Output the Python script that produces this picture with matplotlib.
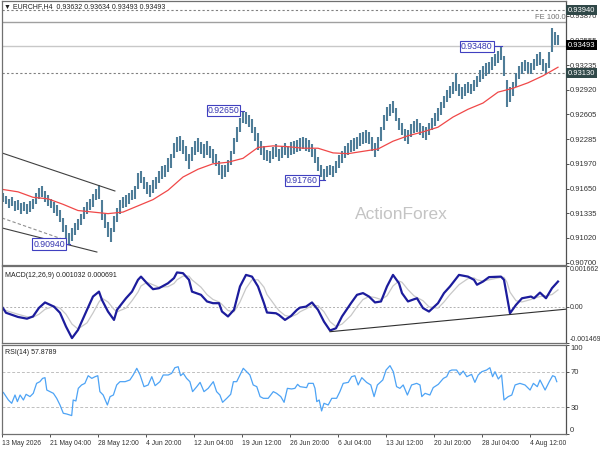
import numpy as np
import matplotlib
matplotlib.use("Agg")
import matplotlib.pyplot as plt

plt.rcParams['font.family'] = ['Liberation Sans', 'DejaVu Sans']

# price bars (each bar = 8h block)
lows = [0.9148, 0.9145, 0.9140, 0.9143, 0.9136, 0.9138, 0.9133, 0.9136, 0.9132, 0.9135, 0.9139,
        0.9145, 0.9152, 0.9155, 0.9148, 0.9143, 0.9140, 0.9134, 0.9130, 0.9122, 0.9110,
        0.9100, 0.9094, 0.9098, 0.9105, 0.9112, 0.9118, 0.9126, 0.9132, 0.9138, 0.9142,
        0.9150, 0.9152, 0.9125, 0.9115, 0.9103, 0.9097, 0.9110, 0.9122, 0.9132, 0.9140,
        0.9142, 0.9146, 0.9150, 0.9152, 0.9165, 0.9172, 0.9164, 0.9158, 0.9155, 0.9160,
        0.9164, 0.9172, 0.9178, 0.9180, 0.9186, 0.9192, 0.9205, 0.9212, 0.9214, 0.9210,
        0.9200, 0.9190, 0.9200, 0.9208, 0.9212, 0.9210, 0.9205, 0.9208, 0.9204, 0.9198,
        0.9194, 0.9182, 0.9178, 0.9180, 0.9186, 0.9196, 0.9210, 0.9225, 0.9238, 0.9250,
        0.9248, 0.9244, 0.9236, 0.9226, 0.9215, 0.9208, 0.9202, 0.9200, 0.9198, 0.9203,
        0.9206, 0.9200, 0.9205, 0.9208, 0.9204, 0.9208, 0.9210, 0.9212, 0.9214, 0.9216,
        0.9214, 0.9212, 0.9206, 0.9198, 0.9188, 0.9180, 0.9176, 0.9180, 0.9182, 0.9180,
        0.9185, 0.9192, 0.9198, 0.9205, 0.9208, 0.9212, 0.9214, 0.9216, 0.9220, 0.9222,
        0.9224, 0.9222, 0.9214, 0.9206, 0.9214, 0.9226, 0.9240, 0.9252, 0.9258, 0.9262,
        0.9252, 0.9240, 0.9234, 0.9226, 0.9222, 0.9232, 0.9236, 0.9238, 0.9234, 0.9230,
        0.9228, 0.9234, 0.9240, 0.9246, 0.9252, 0.9260, 0.9268, 0.9276, 0.9282, 0.9286,
        0.9290, 0.9284, 0.9280, 0.9284, 0.9288, 0.9286, 0.9290, 0.9295, 0.9302, 0.9306,
        0.9310, 0.9312, 0.9318, 0.9322, 0.9326, 0.9330, 0.9310, 0.9270, 0.9276, 0.9284,
        0.9296, 0.9306, 0.9312, 0.9316, 0.9314, 0.9312, 0.9318, 0.9322, 0.9324, 0.9316,
        0.9312, 0.9320, 0.9340, 0.9350, 0.9349]
highs = [0.9160, 0.9156, 0.9152, 0.9155, 0.9149, 0.9150, 0.9147, 0.9148, 0.9145, 0.9149, 0.9152,
         0.9160, 0.9166, 0.9168, 0.9162, 0.9157, 0.9152, 0.9148, 0.9144, 0.9138, 0.9128,
         0.9118, 0.9108, 0.9114, 0.9121, 0.9126, 0.9133, 0.9142, 0.9148, 0.9152, 0.9158,
         0.9164, 0.9170, 0.9150, 0.9132, 0.9122, 0.9115, 0.9130, 0.9140, 0.9150, 0.9155,
         0.9157, 0.9160, 0.9163, 0.9168, 0.9185, 0.9188, 0.9180, 0.9174, 0.9170, 0.9176,
         0.9180, 0.9188, 0.9194, 0.9196, 0.9204, 0.9210, 0.9224, 0.9232, 0.9233, 0.9228,
         0.9220, 0.9210, 0.9218, 0.9226, 0.9230, 0.9225, 0.9222, 0.9226, 0.9220, 0.9216,
         0.9210, 0.9200, 0.9195, 0.9196, 0.9202, 0.9214, 0.9230, 0.9244, 0.9256, 0.9265,
         0.9264, 0.9260, 0.9254, 0.9244, 0.9236, 0.9226, 0.9220, 0.9215, 0.9214, 0.9218,
         0.9222, 0.9216, 0.9220, 0.9224, 0.9220, 0.9225, 0.9226, 0.9228, 0.9230, 0.9232,
         0.9230, 0.9228, 0.9222, 0.9216, 0.9206, 0.9196, 0.9190, 0.9194, 0.9196, 0.9194,
         0.9200, 0.9208, 0.9214, 0.9220, 0.9224, 0.9228, 0.9230, 0.9232, 0.9236, 0.9238,
         0.9240, 0.9238, 0.9232, 0.9224, 0.9232, 0.9244, 0.9260, 0.9270, 0.9274, 0.9277,
         0.9268, 0.9256, 0.9250, 0.9242, 0.9240, 0.9248, 0.9252, 0.9254, 0.9250, 0.9246,
         0.9244, 0.9250, 0.9256, 0.9262, 0.9268, 0.9276, 0.9284, 0.9292, 0.9297, 0.9302,
         0.9314, 0.9300, 0.9296, 0.9300, 0.9302, 0.9300, 0.9305, 0.9310, 0.9318, 0.9322,
         0.9326, 0.9328, 0.9334, 0.9338, 0.9342, 0.9348, 0.9335, 0.9305, 0.9296, 0.9302,
         0.9314, 0.9322, 0.9328, 0.9330, 0.9328, 0.9326, 0.9332, 0.9338, 0.9340, 0.9332,
         0.9326, 0.9340, 0.9371, 0.9366, 0.9363]

# moving average, every 5th bar
ma_pos = list(range(0, 186, 5))
ma_val = [0.9164, 0.9161, 0.9154, 0.9152, 0.9145, 0.9137, 0.9135, 0.9133, 0.9135, 0.9143,
          0.9151, 0.9163, 0.9180, 0.9190, 0.9197, 0.9199, 0.9204, 0.9218, 0.9220, 0.9219,
          0.9217, 0.9217, 0.9211, 0.9210, 0.9213, 0.9216, 0.9226, 0.9233, 0.9238, 0.9244,
          0.9257, 0.9267, 0.9275, 0.9289, 0.9294, 0.9301, 0.9310, 0.9321]

# MACD (12,26,9)
macd_pos = [0, 1, 5, 8, 10, 12, 14, 17, 19, 21, 23, 25, 28, 30, 32, 33, 35, 37, 38, 41,
            43, 45, 46, 48, 50, 52, 55, 57, 58, 60, 62, 63, 66, 68, 70, 72, 73, 75, 77, 79,
            81, 83, 85, 87, 88, 91, 92, 94, 96, 98, 99, 101, 103, 105, 107, 109, 111, 113, 116, 118,
            120, 122, 124, 126, 128, 130, 132, 133, 135, 137, 138, 140, 142, 145, 147, 149, 152, 155, 157, 158,
            160, 162, 166, 167, 168, 169, 171, 173, 176, 177, 179, 181, 183, 185]
macd_val = [-0.00005, -0.00024, -0.00041, -0.00048, -0.00039, -0.00004, 0.00018, 0.00001, -0.00024, -0.00080,
            -0.00127, -0.00094, -0.00012, 0.00042, 0.00062, 0.00028, -0.00019, -0.00053, -0.00012, 0.00035,
            0.00062, 0.00110, 0.00123, 0.00096, 0.00072, 0.00076, 0.00096, 0.00117, 0.00140, 0.00137,
            0.00110, 0.00062, 0.00049, 0.00022, 0.00015, 0.00015, -0.00019, -0.00039, -0.00012, 0.00083,
            0.00130, 0.00123, 0.00083, 0.00015, -0.00023, -0.00026, -0.00033, -0.00053, -0.00037, -0.00012,
            -0.00003, 0.00001, 0.00018, -0.00012, -0.00060, -0.00096, -0.00087, -0.00039, 0.00015, 0.00049,
            0.00056, 0.00042, 0.00018, 0.00022, 0.00083, 0.00130, 0.00096, 0.00056, 0.00022, 0.00031,
            0.00035, -0.00005, -0.00019, 0.00015, 0.00056, 0.00083, 0.00130, 0.00123, 0.00110, 0.00090,
            0.00103, 0.00121, 0.00123, 0.00110, 0.00042, -0.00026, 0.00008, 0.00035, 0.00042, 0.00035,
            0.00058, 0.00035, 0.00076, 0.00103]
signal_val = [-0.00010, -0.00015, -0.00030, -0.00040, -0.00042, -0.00030, -0.00010, 0.00003, -0.00005, -0.00030,
              -0.00070, -0.00090, -0.00065, -0.00025, 0.00020, 0.00035, 0.00020, -0.00010, -0.00020, -0.00005,
              0.00025, 0.00060, 0.00085, 0.00100, 0.00090, 0.00080, 0.00082, 0.00095, 0.00110, 0.00125,
              0.00125, 0.00110, 0.00080, 0.00050, 0.00030, 0.00020, 0.00010, -0.00015, -0.00020, 0.00020,
              0.00075, 0.00110, 0.00110, 0.00080, 0.00050, 0.00000, -0.00015, -0.00035, -0.00040, -0.00030,
              -0.00020, -0.00008, 0.00005, 0.00005, -0.00020, -0.00060, -0.00080, -0.00070, -0.00035, 0.00000,
              0.00030, 0.00042, 0.00038, 0.00030, 0.00045, 0.00085, 0.00105, 0.00100, 0.00070, 0.00045,
              0.00038, 0.00025, 0.00000, -0.00005, 0.00020, 0.00050, 0.00090, 0.00115, 0.00118, 0.00110,
              0.00105, 0.00110, 0.00120, 0.00120, 0.00100, 0.00060, 0.00025, 0.00020, 0.00030, 0.00035,
              0.00042, 0.00045, 0.00050, 0.00069]

# RSI(14)
rsi_pos = [-0.3, 0.1, 1.8, 2.9, 4.0, 4.8, 5.7, 6.8, 7.7, 9.0, 10.1, 11.2, 12.3, 13.2, 14.0, 14.6, 15.7, 16.8,
           17.9, 19.0, 20.1, 21.2, 22.9, 23.4, 24.3, 25.1, 26.2, 27.3, 28.4, 29.6, 30.7, 31.6, 32.3, 33.4,
           34.8, 35.7, 36.8, 37.9, 39.0, 40.7, 42.3, 43.4, 44.6, 45.7, 47.0, 48.4, 49.6, 50.7, 52.3, 53.4,
           55.1, 56.2, 57.3, 58.4, 59.2, 60.1, 61.2, 62.3, 63.2, 64.6, 65.7, 67.0, 68.4, 70.1, 71.2, 72.3,
           73.2, 74.6, 75.9, 76.8, 77.9, 79.0, 80.1, 81.2, 82.3, 83.4, 84.6, 85.7, 86.8, 88.4, 90.1, 91.2,
           92.6, 93.7, 94.8, 96.2, 97.3, 98.2, 99.0, 101.2, 101.8, 103.4, 104.0, 104.6, 105.4, 106.2, 107.0,
           108.4, 109.6, 111.2, 112.3, 113.4, 115.1, 116.2, 117.3, 118.4, 119.6, 121.2, 122.6, 123.7, 124.8,
           126.6, 127.7, 129.0, 130.1, 131.2, 132.3, 133.4, 134.8, 136.2, 137.9, 139.0, 139.6, 140.7, 142.3,
           143.4, 145.1, 146.8, 147.9, 148.8, 149.6, 151.2, 152.3, 153.4, 154.6, 156.2, 157.3, 158.4, 159.6,
           161.2, 162.3, 163.2, 164.0, 165.1, 166.2, 167.0, 168.4, 169.6, 170.7, 172.3, 174.0, 175.7, 176.8,
           178.1, 179.0, 180.7, 182.1, 183.2, 184.0, 184.6]
rsi_val = [45.7, 46.8, 38.2, 34.5, 43.8, 36.4, 43.8, 38.2, 44.6, 42.0, 45.7, 56.9, 58.8, 62.5, 63.3, 49.4, 47.6, 45.7,
           40.1, 32.6, 23.3, 22.5, 20.7, 38.2, 37.1, 51.3, 55.1, 56.9, 65.5, 62.5, 64.4, 65.5, 47.6, 43.8,
           32.6, 42.0, 43.8, 55.1, 58.8, 58.8, 60.7, 66.3, 73.8, 66.3, 53.2, 55.1, 64.4, 54.3, 58.8, 66.3,
           66.3, 68.1, 74.5, 75.6, 65.5, 68.1, 62.5, 58.8, 47.6, 53.2, 58.0, 47.6, 51.3, 58.8, 47.6, 43.8,
           35.6, 40.1, 44.6, 58.8, 58.8, 66.3, 73.8, 70.0, 66.3, 55.1, 53.2, 42.0, 40.1, 40.1, 47.6, 45.7,
           42.0, 35.6, 51.3, 50.6, 51.3, 55.8, 53.2, 52.1, 56.9, 56.9, 51.3, 36.4, 38.2, 25.9, 34.5,
           32.6, 40.1, 40.1, 47.6, 56.9, 58.0, 64.4, 65.5, 55.1, 63.3, 58.0, 55.1, 42.0, 55.1,
           60.7, 71.9, 76.8, 70.0, 53.2, 51.3, 55.1, 43.8, 55.1, 56.9, 55.1, 42.0, 45.7, 43.8,
           52.1, 55.8, 62.5, 64.4, 70.7, 71.9, 71.9, 66.3, 70.7, 64.4, 67.0, 58.0, 66.3, 70.0,
           71.9, 74.5, 64.4, 70.0, 61.8, 66.3, 38.2, 42.0, 43.8, 55.1, 56.9, 55.1, 49.4, 56.9,
           53.2, 60.7, 49.4, 58.8, 65.5, 64.4, 58.8]

tick_pos = [-0.33 + 16 * k for k in range(12)]
tick_lab = ['13 May 2026', '21 May 04:00', '28 May 12:00', '4 Jun 20:00', '12 Jun 04:00',
            '19 Jun 12:00', '26 Jun 20:00', '6 Jul 04:00', '13 Jul 12:00', '20 Jul 20:00',
            '28 Jul 04:00', '4 Aug 12:00']
price_ticks = [0.90700, 0.91020, 0.91335, 0.91650, 0.91970, 0.92285, 0.92605,
               0.92920, 0.93235, 0.93555, 0.93870]

BAR = '#4f7d98'
SP = '#707070'
fs = 5.5

fig = plt.figure(figsize=(6, 4.5), dpi=100, facecolor='white')
ax1 = fig.add_axes([2/600, 185/450, 564/600, 264/450])
ax2 = fig.add_axes([2/600, 107/450, 564/600, 77/450])
ax3 = fig.add_axes([2/600, 16/450, 564/600, 89/450])

for ax in (ax1, ax2, ax3):
    ax.set_xlim(-0.33, 187.67)
    ax.yaxis.tick_right()
    ax.tick_params(axis='y', direction='out', length=2, labelsize=fs, pad=1,
                   colors='#333333', width=0.6)
    for s in ax.spines.values():
        s.set_color(SP)
        s.set_linewidth(0.9)
    ax.spines['right'].set_color('#505050')

# ---- main panel
x = np.arange(len(lows))
ax1.set_ylim(0.906705, 0.940603)
ax1.set_xticks([])
ax1.set_yticks(price_ticks)
ax1.set_yticklabels(['%.5f' % p for p in price_ticks])

ax1.axhline(0.93940, color='#808080', lw=0.8, ls=(0, (2, 2)))
ax1.axhline(0.93790, color='#a0a0a0', lw=1.0)
ax1.axhline(0.93480, color='#c8c8c8', lw=1.0)
ax1.axhline(0.93130, color='#808080', lw=0.8, ls=(0, (2, 2)))

ax1.vlines(x, lows, highs, color=BAR, lw=1.5)
ax1.plot(ma_pos, ma_val, color='#f04848', lw=0.9)

# channel lines
ax1.plot([-0.33, 37.3], [0.92109, 0.91621], color='#404040', lw=0.8)
ax1.plot([-0.33, 31.3], [0.91146, 0.90837], color='#404040', lw=0.8)
ax1.plot([-0.33, 20.7], [0.91274, 0.90991], color='#909090', lw=0.8, ls=(0, (3, 2)))

# swing labels
for tx, lx, lv, txt in [(78.8, 80.5, 0.92650, '0.92650'), (104.9, 107.5, 0.91760, '0.91760'),
                        (163.2, 166.5, 0.93480, '0.93480'), (20.6, 22.5, 0.90940, '0.90940')]:
    ax1.plot([tx, lx], [lv, lv], color='#4040c0', lw=0.8)
    ax1.text(tx, lv, txt, fontsize=6.3, color='#3535b0', ha='right', va='center',
             bbox=dict(boxstyle='square,pad=0.12', fc='white', ec='#4040c0', lw=0.8))

ax1.text(117.3, 0.91325, 'ActionForex', fontsize=12.5, color='#c4c4c4', ha='left', va='center')
ax1.text(187.4, 0.93800, 'FE 100.0', fontsize=fs, color='#707070', ha='right', va='bottom')

yt = ax1.get_yaxis_transform()
for val, bg in [(0.93940, '#304848'), (0.93493, '#000000'), (0.93130, '#304848')]:
    ax1.text(1.003, val, '%.5f' % val, transform=yt, fontsize=fs, color='white',
             ha='left', va='center', clip_on=False,
             bbox=dict(boxstyle='square,pad=0.2', fc=bg, ec='none'))

fig.text(4/600, 1 - 7/450, '\u25bc EURCHF,H4  0.93632 0.93634 0.93493 0.93493',
         fontsize=5, color='#202020', va='center')

# ---- MACD
ax2.set_ylim(-0.001469, 0.001662)
ax2.set_xticks([])
ax2.set_yticks([-0.001469, 0, 0.001662])
ax2.set_yticklabels(['-0.001469', '0.00', '0.001662'])
lab = ax2.get_yticklabels()
lab[0].set_va('bottom')
lab[2].set_va('top')
ax2.tick_params(axis='y', labelsize=5, pad=0.5)
ax2.axhline(0, color='#b0b0b0', lw=0.7, ls=(0, (2, 2)))
ax2.plot(macd_pos, signal_val, color='#c8c8c8', lw=0.9)
ax2.plot(macd_pos, macd_val, color='#1c1c9c', lw=1.6)
ax2.plot([109, 188], [-0.00101, -0.00009], color='#303030', lw=0.8)
ax2.text(0.006, 0.88, 'MACD(12,26,9) 0.001032 0.000691', transform=ax2.transAxes,
         fontsize=5, color='#202020', va='center')

# ---- RSI
ax3.set_ylim(0, 100)
ax3.set_yticks([0, 30, 70, 100])
ax3.set_yticklabels(['0', '30', '70', '100'])
lab = ax3.get_yticklabels()
lab[0].set_va('bottom')
lab[3].set_va('top')
ax3.axhline(70, color='#c0c0c0', lw=0.7, ls=(0, (3, 2)))
ax3.axhline(30, color='#c0c0c0', lw=0.7, ls=(0, (3, 2)))
ax3.plot(rsi_pos, rsi_val, color='#4da3f5', lw=0.9)
ax3.text(0.006, 0.92, 'RSI(14) 57.8789', transform=ax3.transAxes,
         fontsize=5, color='#202020', va='center')
ax3.set_xticks(tick_pos)
ax3.set_xticklabels(tick_lab, ha='left')
ax3.tick_params(axis='x', direction='out', length=2.5, labelsize=4.9, pad=1.5,
                colors='#333333', width=0.6)

fig.savefig('out.png', dpi=100, facecolor='white')
